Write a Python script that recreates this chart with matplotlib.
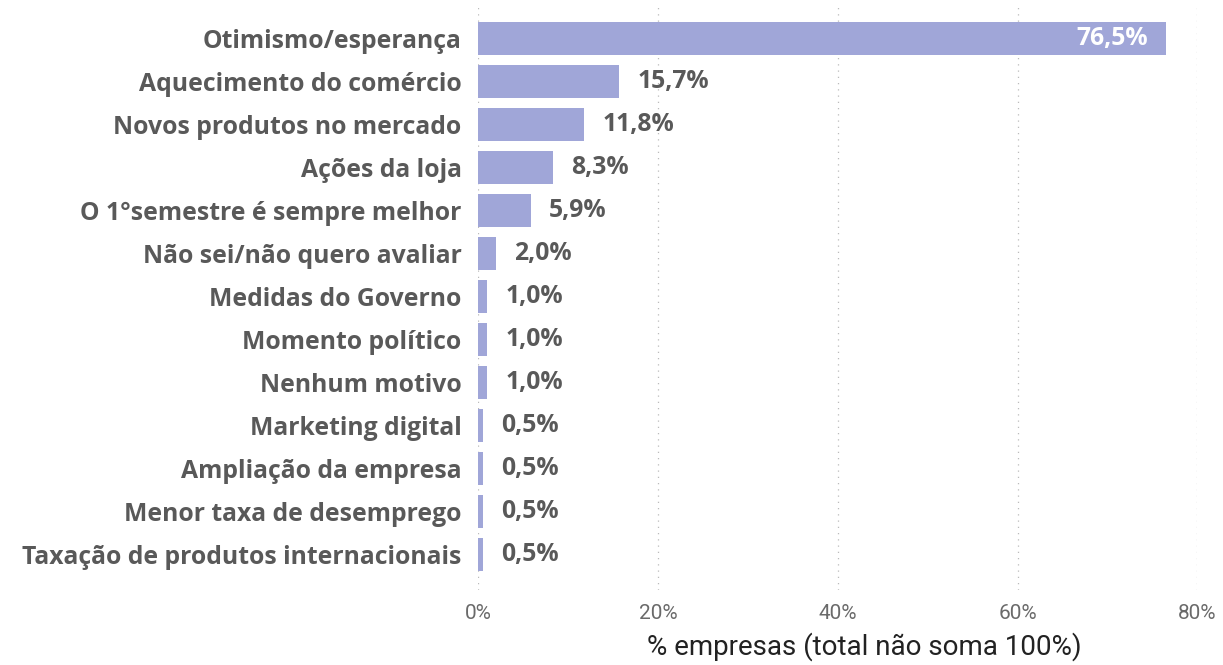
import matplotlib.pyplot as plt
from matplotlib.ticker import FuncFormatter

# categories and values (% of companies)
categorias = [
    "Otimismo/esperança",
    "Aquecimento do comércio",
    "Novos produtos no mercado",
    "Ações da loja",
    "O 1°semestre é sempre melhor",
    "Não sei/não quero avaliar",
    "Medidas do Governo",
    "Momento político",
    "Nenhum motivo",
    "Marketing digital",
    "Ampliação da empresa",
    "Menor taxa de desemprego",
    "Taxação de produtos internacionais",
]
valores = [76.5, 15.7, 11.8, 8.3, 5.9, 2.0, 1.0, 1.0, 1.0, 0.5, 0.5, 0.5, 0.5]
xticks = [0, 20, 40, 60, 80]

bar_color = "#A0A6D8"
text_color = "#595959"

fig = plt.figure(figsize=(12.23, 6.65), dpi=100)
ax = fig.add_axes([0.391, 0.113, 0.588, 0.880])

pos = list(range(len(categorias)))
ax.barh(pos, valores, height=0.77, color=bar_color)

ax.set_ylim(12.83, -0.78)
ax.set_xlim(0, 80)
ax.set_yticks(pos)
ax.set_yticklabels(categorias, fontsize=17.8, fontweight="bold",
                   color=text_color, family="Open Sans")
ax.tick_params(axis="y", length=0, pad=12)

ax.set_xticks(xticks)
ax.xaxis.set_major_formatter(FuncFormatter(lambda v, p: f"{v:.0f}%"))
ax.tick_params(axis="x", length=0, pad=10, labelsize=15, labelcolor="#6A6A6A")
for lab in ax.get_xticklabels():
    lab.set_family("Roboto")

ax.grid(axis="x", linestyle=(0, (1, 4)), color="#BBBBBB", linewidth=0.9)
ax.set_axisbelow(True)
for s in ax.spines.values():
    s.set_visible(False)

for i, v in enumerate(valores):
    txt = f"{v:.1f}%".replace(".", ",")
    if v > 50:
        ax.text(v - 2, i, txt, ha="right", va="center", fontsize=17.8,
                fontweight="bold", color="white", family="Open Sans")
    else:
        ax.text(v + 2, i, txt, ha="left", va="center", fontsize=17.8,
                fontweight="bold", color=text_color, family="Open Sans")

ax.set_xlabel("% empresas (total não soma 100%)", fontsize=20, color="#222222",
              family="Roboto")
ax.xaxis.set_label_coords(0.537, -0.072)

fig.savefig("out.png", dpi=100)
